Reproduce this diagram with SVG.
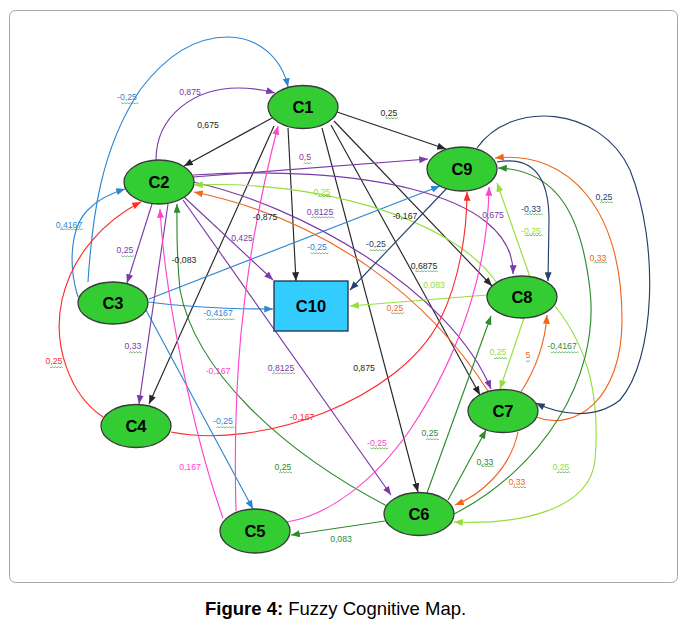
<svg xmlns="http://www.w3.org/2000/svg" width="681" height="621" viewBox="0 0 681 621">
<style>
.e{fill:none;stroke-width:1.15}
.k{stroke:#262626;marker-end:url(#ak)}
.b{stroke:#2e86d1;marker-end:url(#ab)}
.p{stroke:#7a3aa8;marker-end:url(#ap)}
.l{stroke:#94e03a;marker-end:url(#al)}
.o{stroke:#f0661e;marker-end:url(#ao)}
.g{stroke:#2e8b2e;marker-end:url(#ag)}
.r{stroke:#ff2a2a;marker-end:url(#ar)}
.m{stroke:#ff44cc;marker-end:url(#am)}
.n{stroke:#26406e;marker-end:url(#an)}
.node ellipse{fill:#33cc33;stroke:#3a3a3a;stroke-width:1.3}
.node text{font-family:"Liberation Sans",Arial,sans-serif;font-weight:bold;font-size:16.5px;text-anchor:middle;fill:#000}
.lb text{font-family:"Liberation Sans",Arial,sans-serif;font-size:8.7px;text-anchor:middle}
.tk{fill:#262626}.tb{fill:#2e86d1}.tp{fill:#7a3aa8}.tl{fill:#94e03a}.to{fill:#f0661e}.tg{fill:#2e8b2e}.tr{fill:#ff2a2a}.tm{fill:#ff44cc}.tn{fill:#26406e}
.w{fill:url(#wv)}
</style>
<defs>
<marker id="ak" viewBox="0 0 10 8" refX="10" refY="4" markerWidth="9" markerHeight="7" orient="auto" markerUnits="userSpaceOnUse"><path d="M0,0 L10,4 L0,8 z" fill="#262626"/></marker>
<marker id="ab" viewBox="0 0 10 8" refX="10" refY="4" markerWidth="9" markerHeight="7" orient="auto" markerUnits="userSpaceOnUse"><path d="M0,0 L10,4 L0,8 z" fill="#2e86d1"/></marker>
<marker id="ap" viewBox="0 0 10 8" refX="10" refY="4" markerWidth="9" markerHeight="7" orient="auto" markerUnits="userSpaceOnUse"><path d="M0,0 L10,4 L0,8 z" fill="#7a3aa8"/></marker>
<marker id="al" viewBox="0 0 10 8" refX="10" refY="4" markerWidth="9" markerHeight="7" orient="auto" markerUnits="userSpaceOnUse"><path d="M0,0 L10,4 L0,8 z" fill="#94e03a"/></marker>
<marker id="ao" viewBox="0 0 10 8" refX="10" refY="4" markerWidth="9" markerHeight="7" orient="auto" markerUnits="userSpaceOnUse"><path d="M0,0 L10,4 L0,8 z" fill="#f0661e"/></marker>
<marker id="ag" viewBox="0 0 10 8" refX="10" refY="4" markerWidth="9" markerHeight="7" orient="auto" markerUnits="userSpaceOnUse"><path d="M0,0 L10,4 L0,8 z" fill="#2e8b2e"/></marker>
<marker id="ar" viewBox="0 0 10 8" refX="10" refY="4" markerWidth="9" markerHeight="7" orient="auto" markerUnits="userSpaceOnUse"><path d="M0,0 L10,4 L0,8 z" fill="#ff2a2a"/></marker>
<marker id="am" viewBox="0 0 10 8" refX="10" refY="4" markerWidth="9" markerHeight="7" orient="auto" markerUnits="userSpaceOnUse"><path d="M0,0 L10,4 L0,8 z" fill="#ff44cc"/></marker>
<marker id="an" viewBox="0 0 10 8" refX="10" refY="4" markerWidth="9" markerHeight="7" orient="auto" markerUnits="userSpaceOnUse"><path d="M0,0 L10,4 L0,8 z" fill="#26406e"/></marker>
<pattern id="wv" width="3" height="3" patternUnits="userSpaceOnUse"><path d="M0,2.2 L1.5,0.6 L3,2.2" fill="none" stroke="#3c9a3c" stroke-width="0.7"/></pattern>
</defs>
<rect width="681" height="621" fill="#fff"/>
<rect x="9.5" y="10.5" width="668" height="572" rx="6" fill="none" stroke="#a6a6a6" stroke-width="1"/>

<g id="connectors">
<path class="e k" d="M337,112 L446,149"/>
<path class="e k" d="M272,118 L184,166"/>
<path class="e k" d="M288,128 L296,281"/>
<path class="e k" d="M274,126 L149,404"/>
<path class="e k" d="M322,128 L418,492"/>
<path class="e k" d="M331,125 L480,395"/>
<path class="e k" d="M334,121 L492,286"/>
<path class="e b" d="M88,282 C92,220 100,150 140,90 C170,50 200,37 228,37 C258,37 282,58 288,87"/>
<path class="e b" d="M78,297 C68,265 70,225 90,208 C100,198 112,193 125,189"/>
<path class="e b" d="M149,302 Q200,309 273,309"/>
<path class="e b" d="M149,299 L440,186"/>
<path class="e b" d="M146,310 L253,509"/>
<path class="e p" d="M156,160 C156,115 195,88 238,88 C252,88 264,90 275,93"/>
<path class="e p" d="M193,177 L428,159"/>
<path class="e p" d="M184,197 L273,280"/>
<path class="e p" d="M152,204 L127,283"/>
<path class="e p" d="M168,204 L139,404"/>
<path class="e p" d="M183,200 L391,495"/>
<path class="e p" d="M193,182 C300,205 450,290 491,389"/>
<path class="e p" d="M193,175 C350,165 515,190 513,274"/>
<path class="e l" d="M497,283 C450,215 310,180 194,185"/>
<path class="e l" d="M530,277 L497,183"/>
<path class="e l" d="M487,295 L350,306"/>
<path class="e l" d="M524,318 L500,389"/>
<path class="e l" d="M555,306 C590,350 600,400 595,460 C590,510 520,525 454,522"/>
<path class="e o" d="M488,391 C430,300 330,220 194,192"/>
<path class="e o" d="M536,417 C575,432 622,400 622,320 C622,210 570,150 495,158"/>
<path class="e o" d="M521,392 C535,370 545,345 547,315"/>
<path class="e o" d="M518,432 C510,470 480,495 455,505"/>
<path class="e g" d="M387,506 C280,450 195,370 180,290 C176,250 177,225 177,204"/>
<path class="e g" d="M427,493 L491,316"/>
<path class="e g" d="M448,500 L486,430"/>
<path class="e g" d="M454,514 C540,470 600,380 590,290 C582,220 560,170 498,168"/>
<path class="e g" d="M385,521 L291,535"/>
<path class="e r" d="M103,417 C70,395 52,345 62,300 C72,255 105,220 141,202"/>
<path class="e r" d="M171,432 C260,450 400,400 440,320 C460,280 467,230 467,192"/>
<path class="e m" d="M223,518 C195,440 165,300 160,209"/>
<path class="e m" d="M236,511 C233,400 238,280 278,126"/>
<path class="e m" d="M287,522 C330,515 375,480 410,430 C460,355 488,270 489,187"/>
<path class="e n" d="M447,188 L350,290"/>
<path class="e n" d="M497,162 C535,155 549,180 549,220 L548,281"/>
<path class="e n" d="M477,148 C510,100 600,105 630,170 C660,245 655,360 620,400 C595,420 560,415 536,403"/>
</g>

<g id="C1" class="node"><ellipse cx="303" cy="107" rx="35" ry="21.5"/><text x="303" y="113">C1</text></g>
<g id="C2" class="node"><ellipse cx="159" cy="182" rx="35" ry="22"/><text x="159" y="188">C2</text></g>
<g id="C3" class="node"><ellipse cx="113" cy="303" rx="35" ry="21"/><text x="113" y="309">C3</text></g>
<g id="C4" class="node"><ellipse cx="136" cy="426" rx="35" ry="21.5"/><text x="136" y="432">C4</text></g>
<g id="C5" class="node"><ellipse cx="255" cy="531" rx="35" ry="22"/><text x="255" y="537">C5</text></g>
<g id="C6" class="node"><ellipse cx="419" cy="514" rx="35" ry="21.5"/><text x="419" y="520">C6</text></g>
<g id="C7" class="node"><ellipse cx="503" cy="411" rx="35" ry="21.5"/><text x="503" y="417">C7</text></g>
<g id="C8" class="node"><ellipse cx="522" cy="297" rx="35" ry="21"/><text x="522" y="303">C8</text></g>
<g id="C9" class="node"><ellipse cx="462" cy="169" rx="35" ry="22"/><text x="462" y="175">C9</text></g>
<g id="C10" class="node"><rect x="274" y="281" width="74" height="50" fill="#33ccff" stroke="#1f2f4a" stroke-width="1.3"/><text x="311" y="312">C10</text></g>

<g id="labels" class="lb">
<text x="127" y="100" class="tb">-0,25</text>
<text x="190" y="95" class="tp">0,875</text>
<text x="208" y="128" class="tk">0,675</text>
<text x="389" y="116" class="tk">0,25</text>
<text x="305" y="160" class="tp">0,5</text>
<text x="69" y="228" class="tb">0,4167</text>
<text x="125" y="253" class="tp">0,25</text>
<text x="184" y="263" class="tk">-0,083</text>
<text x="242" y="241" class="tp">0,425</text>
<text x="265" y="220" class="tk">-0,875</text>
<text x="322" y="195" class="tl">0,25</text>
<text x="320" y="215" class="tp">0,8125</text>
<text x="317" y="250" class="tb">-0,25</text>
<text x="376" y="247" class="tn">-0,25</text>
<text x="405" y="219" class="tk">-0,167</text>
<text x="424" y="269" class="tk">0,6875</text>
<text x="493" y="218" class="tp">0,675</text>
<text x="531" y="212" class="tn">-0,33</text>
<text x="531" y="234" class="tl">-0,25</text>
<text x="604" y="200" class="tn">0,25</text>
<text x="598" y="261" class="to">0,33</text>
<text x="434" y="288" class="tl">0,083</text>
<text x="395" y="311" class="to">0,25</text>
<text x="218" y="316" class="tb">-0,4167</text>
<text x="133" y="349" class="tp">0,33</text>
<text x="54" y="364" class="tr">0,25</text>
<text x="218" y="374" class="tm">-0,167</text>
<text x="281" y="371" class="tp">0,8125</text>
<text x="364" y="371" class="tk">0,875</text>
<text x="498" y="355" class="tl">0,25</text>
<text x="528" y="358" class="to">5</text>
<text x="562" y="349" class="tg">-0,4167</text>
<text x="302" y="420" class="tr">-0,167</text>
<text x="223" y="424" class="tb">-0,25</text>
<text x="377" y="446" class="tm">-0,25</text>
<text x="430" y="436" class="tg">0,25</text>
<text x="485" y="465" class="tg">0,33</text>
<text x="561" y="470" class="tl">0,25</text>
<text x="517" y="485" class="to">0,33</text>
<text x="190" y="470" class="tm">0,167</text>
<text x="283" y="470" class="tg">0,25</text>
<text x="341" y="542" class="tg">0,083</text>
</g>

<g id="squiggles">
<rect class="w" x="121" y="102" width="17.5" height="3"/>
<rect class="w" x="385" y="117" width="13" height="3"/>
<rect class="w" x="303.5" y="162" width="8" height="3"/>
<rect class="w" x="60" y="228" width="23" height="3"/>
<rect class="w" x="121" y="255" width="13" height="3"/>
<rect class="w" x="318" y="195" width="13" height="3"/>
<rect class="w" x="311" y="216" width="23" height="3"/>
<rect class="w" x="310.5" y="252" width="18" height="3"/>
<rect class="w" x="369.5" y="249" width="18" height="3"/>
<rect class="w" x="415" y="270" width="23" height="3"/>
<rect class="w" x="524.5" y="213" width="18" height="3"/>
<rect class="w" x="524.5" y="234" width="18" height="3"/>
<rect class="w" x="600" y="201" width="13" height="3"/>
<rect class="w" x="594" y="261" width="13" height="3"/>
<rect class="w" x="391" y="312" width="13" height="3"/>
<rect class="w" x="206.5" y="318" width="28" height="3"/>
<rect class="w" x="129" y="351" width="13" height="3"/>
<rect class="w" x="50" y="366" width="13" height="3"/>
<rect class="w" x="272" y="372" width="23" height="3"/>
<rect class="w" x="494" y="357" width="13" height="3"/>
<rect class="w" x="526" y="360" width="4" height="3"/>
<rect class="w" x="550.5" y="351" width="28" height="3"/>
<rect class="w" x="216.5" y="426" width="18" height="3"/>
<rect class="w" x="370.5" y="447" width="18" height="3"/>
<rect class="w" x="426" y="438" width="13" height="3"/>
<rect class="w" x="481" y="465" width="13" height="3"/>
<rect class="w" x="557" y="471" width="13" height="3"/>
<rect class="w" x="513" y="486" width="13" height="3"/>
<rect class="w" x="279" y="471" width="13" height="3"/>
</g>

<text x="205" y="615" font-family="Liberation Sans, Arial, sans-serif" font-size="18.5" fill="#000"><tspan font-weight="bold">Figure 4:</tspan> Fuzzy Cognitive Map.</text>
</svg>
